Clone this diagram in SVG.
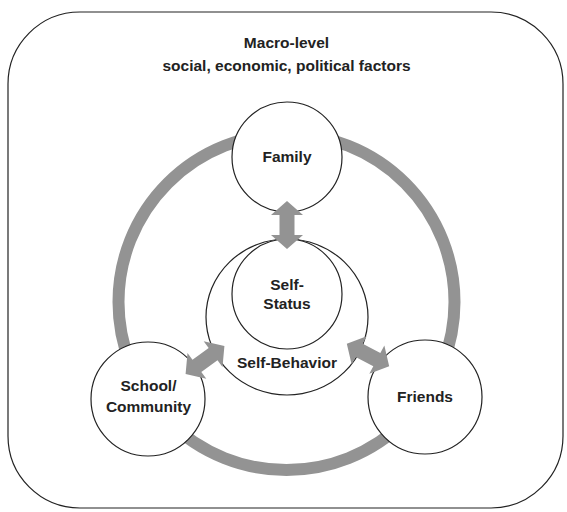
<svg xmlns="http://www.w3.org/2000/svg" width="567" height="512" viewBox="0 0 567 512">
<defs>
<style>
.node{fill:#fff;stroke:#222;stroke-width:1.2}
.t{font-family:"Liberation Sans",Arial,sans-serif;font-weight:bold;font-size:15.5px;fill:#222;text-anchor:middle}
.arr{fill:#939393}
</style>
<polygon id="dbl" points="-24,0 -10,-16 -10,-7.5 10,-7.5 10,-16 24,0 10,16 10,7.5 -10,7.5 -10,16"/>
</defs>
<rect width="567" height="512" fill="#fff"/>
<g id="macro">
<rect x="8" y="12" width="555" height="496" rx="72" ry="72" fill="#fff" stroke="#222" stroke-width="1.2"/>
<text class="t" x="286.5" y="48">Macro-level</text>
<text class="t" x="286.5" y="71">social, economic, political factors</text>
</g>
<g id="ring">
<circle cx="286.5" cy="302" r="168" fill="none" stroke="#939393" stroke-width="12"/>
</g>
<g id="self-behavior">
<ellipse class="node" cx="287" cy="317" rx="81" ry="78"/>
<text class="t" x="287" y="368">Self-Behavior</text>
</g>
<g id="self-status">
<circle class="node" cx="287" cy="294" r="55"/>
<text class="t" x="287" y="290">Self-</text>
<text class="t" x="287" y="309">Status</text>
</g>
<g id="family">
<circle class="node" cx="287" cy="157" r="55"/>
<text class="t" x="287" y="162">Family</text>
</g>
<g id="school">
<circle class="node" cx="148" cy="399" r="57"/>
<text class="t" x="148.5" y="391">School/</text>
<text class="t" x="148.5" y="412">Community</text>
</g>
<g id="friends">
<circle class="node" cx="425" cy="397" r="57"/>
<text class="t" x="425" y="402">Friends</text>
</g>
<g id="connectors" class="arr">
<use href="#dbl" transform="translate(287,225) rotate(90)"/>
<use href="#dbl" transform="translate(205,360) rotate(-36)"/>
<use href="#dbl" transform="translate(368,355) rotate(28)"/>
</g>
</svg>
